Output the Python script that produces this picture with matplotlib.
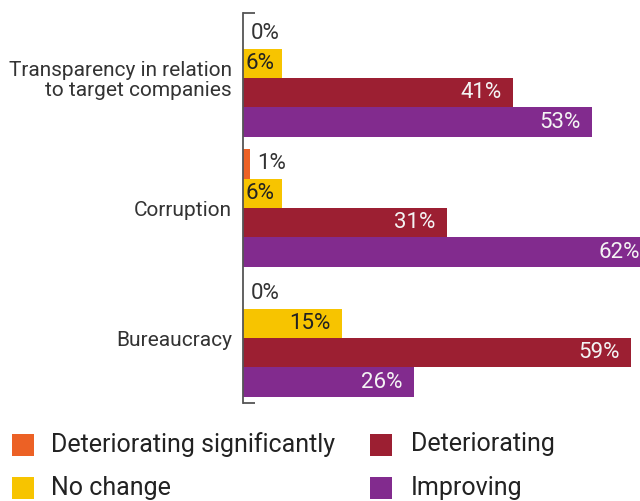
import numpy as np
import matplotlib
matplotlib.use('Agg')
import matplotlib.pyplot as plt
from matplotlib.patches import Rectangle

plt.rcParams['font.family'] = ['Roboto', 'DejaVu Sans']

# survey shares, in percent
categories = ['Transparency in relation\nto target companies', 'Corruption', 'Bureaucracy']
series = ['Deteriorating significantly', 'No change', 'Deteriorating', 'Improving']
det_sig = [0, 1, 0]
no_change = [6, 6, 15]
deteriorating = [41, 31, 59]
improving = [53, 62, 26]

values = [det_sig, no_change, deteriorating, improving]
colors = ['#EC6125', '#F7C400', '#9C1F32', '#822B8E']
label_colors = ['#333333', '#222222', '#F4F4F4', '#F4F4F4']

W, H = 640, 501
fig = plt.figure(figsize=(W / 100, H / 100), dpi=100)
ax = fig.add_axes([243 / W, 1 - 403 / H, 1 - 243 / W, 390 / H])

grey = '#555555'
fs_val = 16
bh = 0.226
y = np.arange(len(categories))
offsets = [-1.5 * bh, -0.5 * bh, 0.5 * bh, 1.5 * bh]

for vals, off, col, lcol in zip(values, offsets, colors, label_colors):
    ax.barh(y + off, vals, height=bh, color=col, linewidth=0)
    for yi, v in zip(y + off, vals):
        txt = '{}%'.format(v)
        if v < 5:
            # too small: label sits just right of the bar
            ax.annotate(txt, (v, yi), xytext=(5.5, 0), textcoords='offset points',
                        ha='left', va='center', fontsize=fs_val, color='#333333')
        elif v < 10:
            ax.annotate(txt, (0, yi), xytext=(1.5, 0), textcoords='offset points',
                        ha='left', va='center', fontsize=fs_val, color=lcol)
        else:
            ax.annotate(txt, (v, yi), xytext=(-8, 0), textcoords='offset points',
                        ha='right', va='center', fontsize=fs_val, color=lcol,
                        annotation_clip=False)

ax.set_xlim(0, 397 / 6.58)
ax.set_ylim(2.5, -0.5)
ax.set_yticks(y)
ax.set_yticklabels(categories, fontsize=15, color='#333333', linespacing=1.05)
ax.tick_params(axis='y', length=0, pad=8)
ax.set_xticks([])
for s in ['top', 'right', 'bottom']:
    ax.spines[s].set_visible(False)
ax.spines['left'].set_color(grey)
ax.spines['left'].set_linewidth(1.3)
# short caps at both ends of the axis line
for yy in (0, 1):
    ax.plot([0, 12 / 397], [yy, yy], transform=ax.transAxes, color=grey,
            lw=1.3, clip_on=False, solid_capstyle='butt')

# legend, two columns, filled column by column
sq = 22
col_x = [12, 370]
text_x = [51, 411]
row_y = [444.5, 488]
for i, (name, col) in enumerate(zip(series, colors)):
    c, r = divmod(i, 2)
    fig.add_artist(Rectangle((col_x[c] / W, 1 - (row_y[r] + sq / 2) / H), sq / W, sq / H,
                             transform=fig.transFigure, color=col, linewidth=0))
    fig.text(text_x[c] / W, 1 - row_y[r] / H, name, fontsize=18, color='#222222',
             ha='left', va='center')

fig.savefig('out.png', dpi=100)
